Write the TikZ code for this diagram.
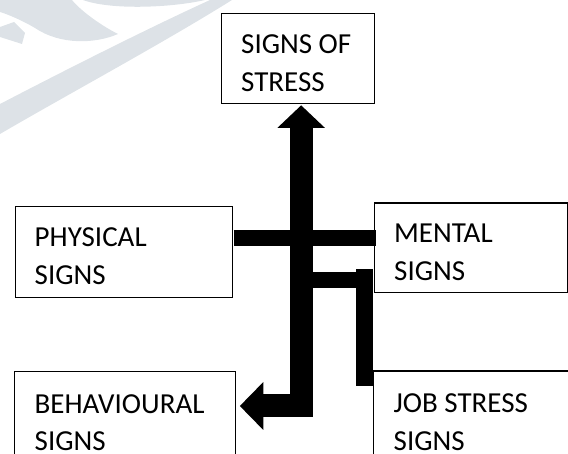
\documentclass[tikz,border=0pt]{standalone}
\usepackage{fontspec}
\setmainfont{Carlito}
\usetikzlibrary{arrows.meta,calc}
\definecolor{wm}{RGB}{221,226,231}
\begin{document}
\begin{tikzpicture}[x=1pt,y=-1pt,
  box/.style={draw=black, line width=1.3pt, rectangle, inner sep=0pt, anchor=north west},
  lbl/.style={font=\fontsize{29}{37.6}\selectfont, align=left, inner sep=0pt, anchor=north west},
  bar/.style={line width=16.5pt},
  bigarrow/.style={line width=23pt,
    {Triangle[length=22.5pt,width=46pt]}-{Triangle[length=23.5pt,width=46.5pt]}},
]
\useasboundingbox (0,0) rectangle (568,454);
\begin{scope}
\clip (0,0) rectangle (568,454);
% watermark
\fill[wm] (0,104) .. controls (50,78) and (140,32) .. (210,0) -- (232,0)
  .. controls (165,42) and (65,96) .. (0,134) -- cycle;
\fill[wm] (0,0) -- (72,0) .. controls (80,10) and (100,25) .. (118,34)
  .. controls (95,44) and (60,45) .. (35,28) .. controls (25,22) and (10,15) .. (0,12) -- cycle;
\fill[wm] (0,27) -- (14,22) -- (25,33) -- (22,44) -- (0,37) -- cycle;
\fill[wm] (83,0) .. controls (110,10) and (170,8) .. (205,0) -- cycle;

% boxes
\node[box, minimum width=153pt, minimum height=90pt] (top) at (221,13) {};
\node[box, minimum width=217.5pt, minimum height=91pt] (phys) at (14.5,206) {};
\node[box, minimum width=193.5pt, minimum height=89.5pt] (ment) at (373.5,202.5) {};
\node[box, minimum width=221pt, minimum height=100pt] (beh) at (14,371) {};
\node[box, minimum width=210pt, minimum height=100pt] (job) at (373,370.5) {};

% labels
\node[lbl] (topt) at ($(top.north west)+(20,21.5)$) {SIGNS OF\\STRESS};
\node[lbl] (physt) at ($(phys.north west)+(20,21.5)$) {PHYSICAL\\SIGNS};
\node[lbl] (mentt) at ($(ment.north west)+(20.5,21.5)$) {MENTAL\\SIGNS};
\node[lbl] (beht) at ($(beh.north west)+(20.5,23)$) {BEHAVIOURAL\\SIGNS};
\node[lbl] (jobt) at ($(job.north west)+(20.5,23)$) {JOB STRESS\\SIGNS};

% connectors
\coordinate (upTip) at ($(top.south)+(3,1)$);
\coordinate (behTip) at ($(beh.north east)+(3.5,35)$);
\coordinate (b1s) at ($(phys.north east)+(0.5,32)$);
\draw[bar] (b1s) -- ($(b1s -| ment.west)+(2.5,0)$);
\coordinate (vt) at ($(ment.north west)+(-9,66.5)$);
\coordinate (vb) at ($(job.north west)+(-8.5,15.5)$);
\draw[bar] (vt) -- (vb);
\coordinate (hj) at ($(vt)+(0,11)$);
\draw[bar] (hj -| upTip) -- (hj);
\draw[bigarrow] (upTip) |- (behTip);
\end{scope}
\end{tikzpicture}
\end{document}
